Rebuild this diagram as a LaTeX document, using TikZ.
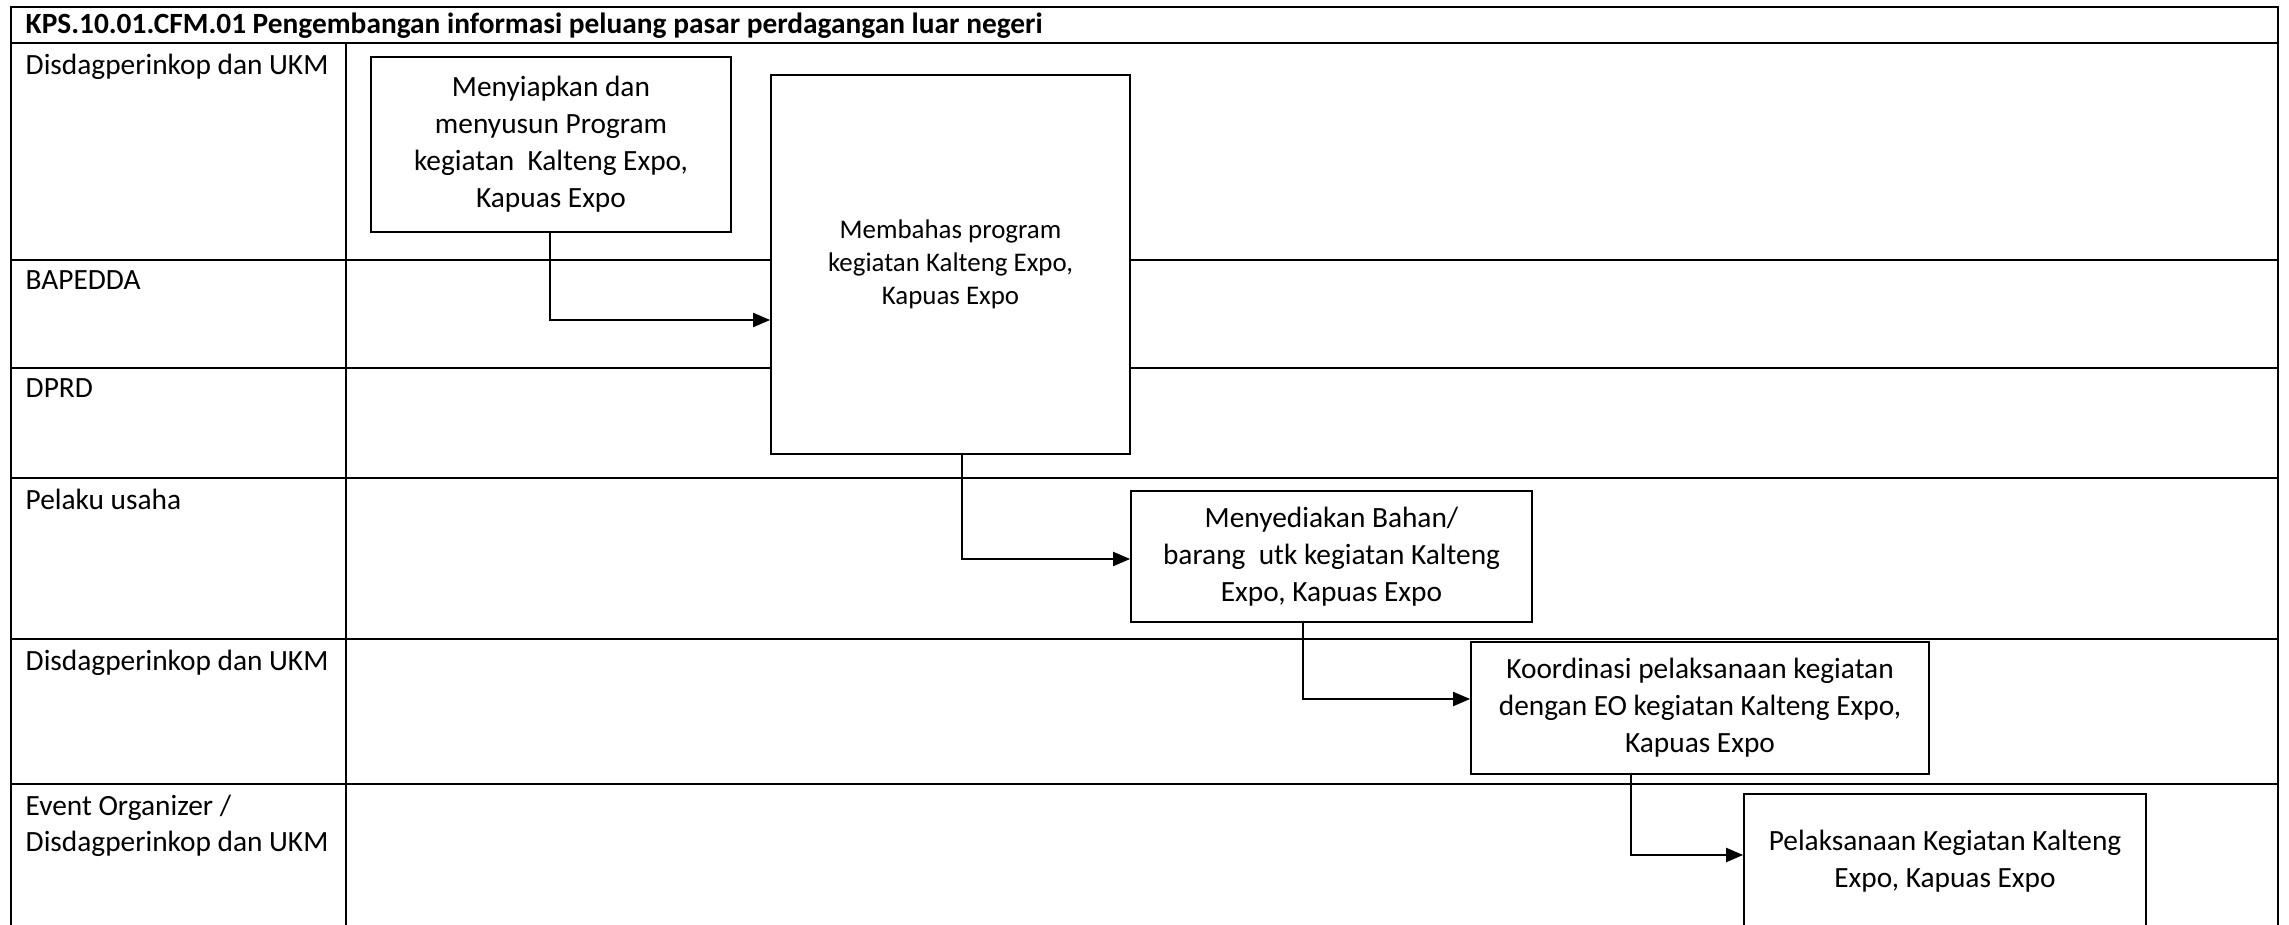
\documentclass[tikz,border=0pt]{standalone}
\usepackage{fontspec}
\setmainfont{Carlito}
\usetikzlibrary{arrows.meta,shadows}
\definecolor{swedge}{RGB}{0,0,0}
\definecolor{swshade}{RGB}{150,150,150}
\tikzset{
  lane/.style={draw=swedge, line width=0.75pt},
  who/.style={
    anchor=north west, inner sep=0pt, align=left,
    font=\fontsize{8.35}{10.4}\selectfont
  },
  procbox/.style={
    draw=swedge, fill=white, line width=0.45pt, align=center,
    inner sep=2pt, font=\fontsize{8.35}{10.5}\selectfont,
    drop shadow={shadow xshift=0.35pt, shadow yshift=-0.35pt, fill=swshade, opacity=1}
  },
  smallbox/.style={procbox, font=\fontsize{7.65}{9.4}\selectfont},
  arr/.style={-{Triangle[length=1.7mm,width=1.4mm]}, draw=swedge, line width=0.6pt}
}

\begin{document}
\begin{tikzpicture}[x=0.01cm, y=-0.01cm]
  \useasboundingbox (0,0) rectangle (2289,925);
  \clip (0,0) rectangle (2289,925);
  % frame, title row and lanes
  \draw[lane] (11,930) -- (11,7) -- (2278,7) -- (2278,930);
  \node[anchor=base west, inner sep=0pt, font=\bfseries\fontsize{8.35}{10}\selectfont] (title) at (25,34)
    {KPS.10.01.CFM.01 Pengembangan informasi peluang pasar perdagangan luar negeri};
  \foreach \ytop/\who [count=\i] in {43/{Disdagperinkop dan UKM}, 260/BAPEDDA, 368/DPRD,
      478/{Pelaku usaha}, 639/{Disdagperinkop dan UKM}, 784/{Event Organizer /\\Disdagperinkop dan UKM}} {
    \draw[lane] (11,\ytop) -- (2278,\ytop);
    \node[who] (lane\i) at (25,\ytop+10) {\who};
  }
  \draw[lane] (346,43) -- (346,930);

  % steps
  \node[procbox, minimum width=3.60cm, minimum height=1.75cm] (prep) at (551,144.5)
    {Menyiapkan dan\\menyusun Program\\kegiatan\ \ Kalteng Expo,\\Kapuas Expo};
  \node[smallbox, minimum width=3.59cm, minimum height=3.79cm] (talk) at (950.5,264.5)
    {Membahas program\\kegiatan Kalteng Expo,\\Kapuas Expo};
  \node[procbox, minimum width=4.01cm, minimum height=1.31cm] (goods) at (1331.5,556.5)
    {Menyediakan Bahan/\\barang\ \ utk kegiatan Kalteng\\Expo, Kapuas Expo};
  \node[procbox, minimum width=4.58cm, minimum height=1.32cm] (coord) at (1700,708)
    {Koordinasi pelaksanaan kegiatan\\dengan EO kegiatan Kalteng Expo,\\Kapuas Expo};
  \node[procbox, minimum width=4.02cm, minimum height=1.34cm] (run) at (1945,861)
    {Pelaksanaan Kegiatan Kalteng\\Expo, Kapuas Expo};

  \draw[arr] (prep.south -| 550,0) |- (talk.west |- 0,320);
  \draw[arr] (talk.south -| 962,0) |- (goods.west |- 0,559);
  \draw[arr] (goods.south -| 1303,0) |- (coord.west |- 0,699);
  \draw[arr] (coord.south -| 1631,0) |- (run.west |- 0,855);
\end{tikzpicture}
\end{document}
